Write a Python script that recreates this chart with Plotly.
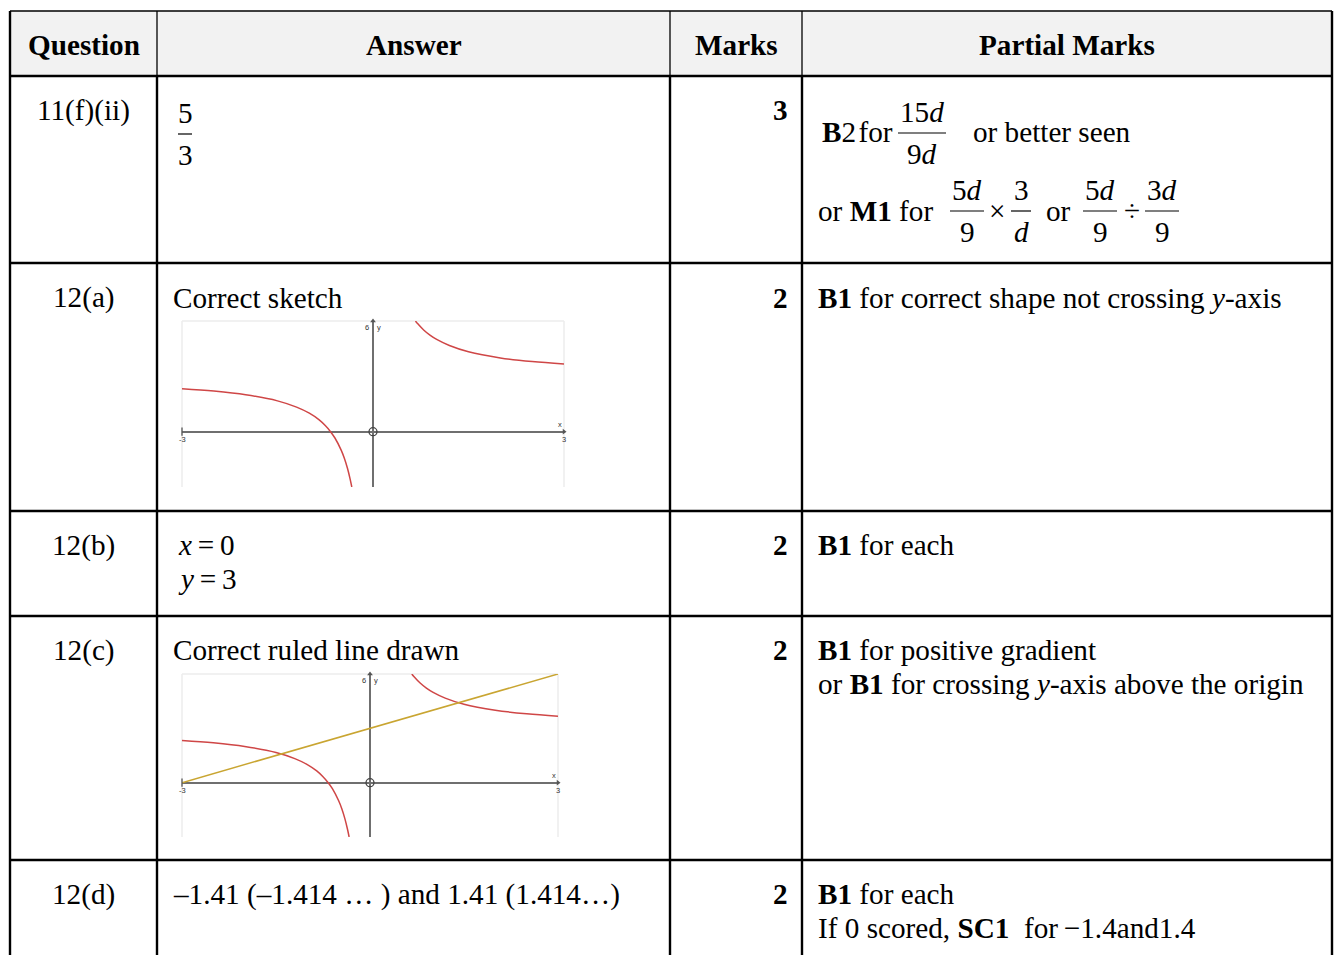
import plotly.graph_objects as go

W, H = 1335, 955
OFF = 0  # body margin removed via post_script below
FONT = "Liberation Serif, Times New Roman, serif"
FS = 29.2

# ---------------- table data ----------------
col_edges = [10, 157, 670, 802, 1332]
row_edges = [11, 76, 263, 511, 616, 860]
headers = ["Question", "Answer", "Marks", "Partial Marks"]
questions = ["11(f)(ii)", "12(a)", "12(b)", "12(c)", "12(d)"]
marks = ["3", "2", "2", "2", "2"]
answer_lines = [
    [],
    ["Correct sketch"],
    ["<i>x</i>\u2009=\u20090", "<i>y</i>\u2009=\u20093"],
    ["Correct ruled line drawn"],
    ["\u20131.41 (\u20131.414 \u2026 ) and 1.41 (1.414\u2026)"],
]
partial_lines = [
    [],
    ["<b>B1</b> for correct shape not crossing <i>y</i>-axis"],
    ["<b>B1</b> for each"],
    ["<b>B1</b> for positive gradient",
     "or <b>B1</b> for crossing <i>y</i>-axis above the origin"],
    ["<b>B1</b> for each",
     "If 0 scored, <b>SC1</b>\u2002for\u2009\u22121.4and1.4"],
]
row_text_y = [110, 298, 545, 650, 894]
line_step = 34

# ---------------- mini graph data ----------------
x_range = [-3, 3]
y_range = [-3, 6]
curve_left_x = [-3, -2.5, -2, -1.5, -1.2, -1, -0.85, -0.75, -0.667, -0.6, -0.5, -0.45, -0.4, -0.36, -0.333]
curve_left_y = [2.33, 2.2, 2.0, 1.67, 1.33, 1.0, 0.65, 0.33, 0.0, -0.33, -1.0, -1.44, -2.0, -2.56, -3.0]
curve_right_x = [0.667, 0.7, 0.8, 0.9, 1.0, 1.2, 1.5, 2.0, 2.5, 3.0]
curve_right_y = [6.0, 5.86, 5.5, 5.22, 5.0, 4.67, 4.33, 4.0, 3.8, 3.67]
line_x = [-3, 3]
line_y = [0, 6]

CURVE = "#cf4646"
LINEC = "#c9a531"
AXC = "#6f6f6f"


def X(px):
    return (px - OFF) / W


def Y(py):
    return 1 - (py - OFF) / H


fig = go.Figure()
shapes = []
ann = []


def text(x, y, s, anchor="left", size=FS, color="black"):
    ann.append(dict(x=X(x), y=Y(y), xref="paper", yref="paper", text=s,
                    showarrow=False, xanchor=anchor, yanchor="middle",
                    font=dict(family=FONT, size=size, color=color),
                    borderpad=0))


def hline(x0, x1, y, w=2, c="black"):
    shapes.append(dict(type="line", xref="paper", yref="paper",
                       x0=X(x0), x1=X(x1), y0=Y(y), y1=Y(y),
                       line=dict(color=c, width=w)))


def vline(x, y0, y1, w=2, c="black"):
    shapes.append(dict(type="line", xref="paper", yref="paper",
                       x0=X(x), x1=X(x), y0=Y(y0), y1=Y(y1),
                       line=dict(color=c, width=w)))


def frac(xc, ybar, num, den, half):
    text(xc, ybar - 21, num, anchor="center")
    text(xc, ybar + 21, den, anchor="center")
    hline(xc - half, xc + half, ybar, w=1.2)


# header fill
shapes.append(dict(type="rect", xref="paper", yref="paper",
                   x0=X(col_edges[0]), x1=X(col_edges[-1]),
                   y0=Y(row_edges[0]), y1=Y(row_edges[1]),
                   fillcolor="#f2f2f2", line=dict(width=0), layer="below"))

# grid lines
hline(col_edges[0], col_edges[-1], row_edges[0], w=1.3)
for r in row_edges[1:]:
    hline(col_edges[0] - 1, col_edges[-1] + 1, r, w=2.4)
vline(col_edges[0], row_edges[0], H + 20, w=2.4)
vline(col_edges[-1], row_edges[0], H + 20, w=2.4)
for c in col_edges[1:-1]:
    vline(c, row_edges[0], row_edges[1], w=1.3)
    vline(c, row_edges[1], H + 20, w=2.4)

# headers
for i, h in enumerate(headers):
    text((col_edges[i] + col_edges[i + 1]) / 2, 45, "<b>%s</b>" % h, anchor="center")

# question / marks / answers / partials
for i, q in enumerate(questions):
    y0 = row_text_y[i]
    text((col_edges[0] + col_edges[1]) / 2, y0, q, anchor="center")
    text(col_edges[3] - 13, y0, "<b>%s</b>" % marks[i], anchor="right")
    for k, s in enumerate(answer_lines[i]):
        text(col_edges[1] + 15 + (5 if i == 2 else 0), y0 + k * line_step, s)
    for k, s in enumerate(partial_lines[i]):
        text(col_edges[3] + 15, y0 + k * line_step, s)

# row 11(f)(ii) answer fraction
frac(185, 134, "5", "3", 7)
# partial marks row 11
text(821, 132, "<b>B</b>2\u200afor")
frac(922, 133, "15<i>d</i>", "9<i>d</i>", 24)
text(972, 132, "or better seen")
text(817, 211, "or <b>M1</b> for")
frac(967, 211, "5<i>d</i>", "9", 17)
text(997, 211, "\u00d7", anchor="center")
frac(1021, 211, "3", "<i>d</i>", 10)
text(1058, 211, "or", anchor="center")
frac(1100, 211, "5<i>d</i>", "9", 17)
text(1132, 211, "\u00f7", anchor="center")
frac(1162, 211, "3<i>d</i>", "9", 17)

# ---------------- mini graphs ----------------
graphs = [
    dict(xa="x2", ya="y2", box=(182, 564, 321, 487), line=False),
    dict(xa="x3", ya="y3", box=(182, 558, 674, 837), line=True),
]
for gi, g in enumerate(graphs):
    x0, x1, t, b = g["box"]
    n = gi + 2
    fig.add_trace(go.Scatter(x=curve_left_x, y=curve_left_y, mode="lines",
                             line=dict(color=CURVE, width=1.5, shape="spline"),
                             xaxis=g["xa"], yaxis=g["ya"], showlegend=False, hoverinfo="skip"))
    fig.add_trace(go.Scatter(x=curve_right_x, y=curve_right_y, mode="lines",
                             line=dict(color=CURVE, width=1.5, shape="spline"),
                             xaxis=g["xa"], yaxis=g["ya"], showlegend=False, hoverinfo="skip"))
    if g["line"]:
        fig.add_trace(go.Scatter(x=line_x, y=line_y, mode="lines",
                                 line=dict(color=LINEC, width=1.5),
                                 xaxis=g["xa"], yaxis=g["ya"], showlegend=False, hoverinfo="skip"))
    # origin ring and axis-end arrows
    fig.add_trace(go.Scatter(x=[0], y=[0], mode="markers",
                             marker=dict(symbol="circle-open", size=8, color="#444",
                                         line=dict(width=1.3)),
                             xaxis=g["xa"], yaxis=g["ya"], showlegend=False, hoverinfo="skip",
                             cliponaxis=False))
    fig.add_trace(go.Scatter(x=[0, x_range[1]], y=[y_range[1], 0], mode="markers",
                             marker=dict(symbol=["triangle-up", "triangle-right"], size=5, color="#555"),
                             xaxis=g["xa"], yaxis=g["ya"], showlegend=False, hoverinfo="skip",
                             cliponaxis=False))
    fig.add_trace(go.Scatter(x=[x_range[0]], y=[0], mode="markers",
                             marker=dict(symbol="line-ns", size=6, color="#555", line=dict(width=1.3, color="#555")),
                             xaxis=g["xa"], yaxis=g["ya"], showlegend=False, hoverinfo="skip",
                             cliponaxis=False))
    ax = dict(range=x_range, domain=[X(x0), X(x1)], anchor=g["ya"], showgrid=False,
              showticklabels=False, ticks="", zeroline=True, zerolinecolor=AXC,
              zerolinewidth=2, showline=False, fixedrange=True)
    ay = dict(range=y_range, domain=[Y(b), Y(t)], anchor=g["xa"], showgrid=False,
              showticklabels=False, ticks="", zeroline=True, zerolinecolor=AXC,
              zerolinewidth=2, showline=False, fixedrange=True)
    fig.update_layout(**{"xaxis%d" % n: ax, "yaxis%d" % n: ay})
    # light frame
    for (a0, a1, b0, b1) in [(0, 1, 1, 1), (0, 0, 0, 1), (1, 1, 0, 1)]:
        shapes.append(dict(type="line", xref="%s domain" % g["xa"], yref="%s domain" % g["ya"],
                           x0=a0, x1=a1, y0=b0, y1=b1,
                           line=dict(color="#ececec", width=1.5), layer="below"))
    # tiny tick labels
    tf = dict(size=7.5, color="#333", family="Arial")
    ann.append(dict(x=x_range[0], y=0, xref=g["xa"], yref=g["ya"], text="-3", showarrow=False,
                    xanchor="center", yanchor="top", yshift=-1, font=tf))
    ann.append(dict(x=x_range[1], y=0, xref=g["xa"], yref=g["ya"], text="3", showarrow=False,
                    xanchor="center", yanchor="top", yshift=-1, font=tf))
    ann.append(dict(x=x_range[1], y=0, xref=g["xa"], yref=g["ya"], text="x", showarrow=False,
                    xanchor="right", yanchor="bottom", yshift=1, font=tf))
    ann.append(dict(x=0, y=y_range[1], xref=g["xa"], yref=g["ya"], text="6", showarrow=False,
                    xanchor="right", yanchor="top", xshift=-2, font=tf))
    ann.append(dict(x=0, y=y_range[1], xref=g["xa"], yref=g["ya"], text="y", showarrow=False,
                    xanchor="left", yanchor="top", xshift=2, font=tf))

fig.update_layout(
    width=W, height=H, margin=dict(l=0, r=0, t=0, b=0),
    paper_bgcolor="white", plot_bgcolor="white",
    xaxis=dict(visible=False), yaxis=dict(visible=False),
    shapes=shapes, annotations=ann, showlegend=False,
)
fig.write_html("out.html", config={"displayModeBar": False},
               post_script="document.body.style.margin='0';document.body.style.overflow='hidden';")
